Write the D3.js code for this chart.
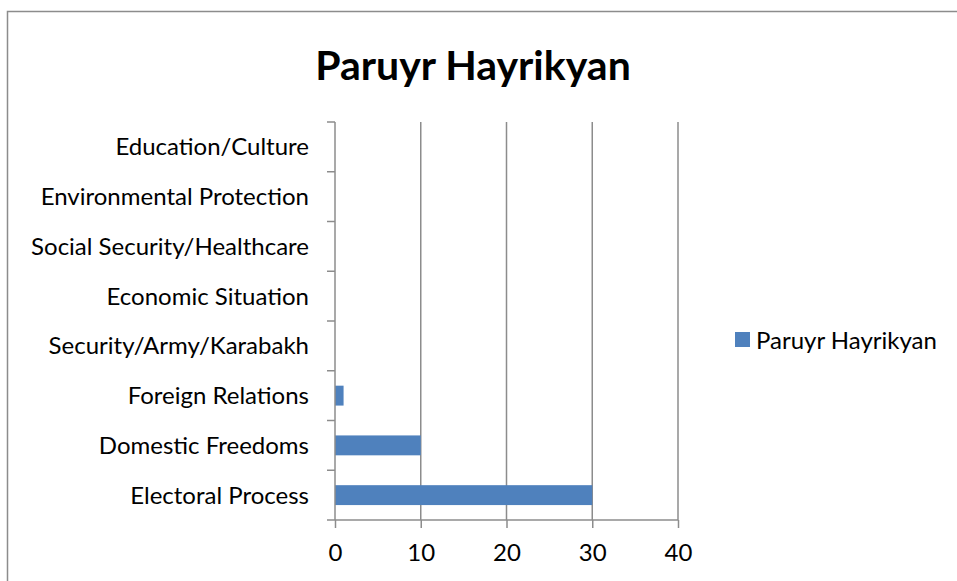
<!DOCTYPE html>
<html>
<head>
<meta charset="utf-8">
<script src="https://cdn.jsdelivr.net/npm/d3@7"></script>
<style>
  body { margin: 0; background: #fff; }
  svg text { font-family: Lato, "Open Sans", sans-serif; fill: #000; }
</style>
</head>
<body>
<div id="chart"></div>
<script>
// categories listed bottom to top, as in the picture
var categories = ['Electoral Process', 'Domestic Freedoms', 'Foreign Relations',
  'Security/Army/Karabakh', 'Economic Situation', 'Social Security/Healthcare',
  'Environmental Protection', 'Education/Culture'];
var values = [30, 10, 1, 0, 0, 0, 0, 0];
var xTicks = [0, 10, 20, 30, 40];
var seriesName = 'Paruyr Hayrikyan';

var width = 957, height = 581;
var plot = { left: 335, right: 678, top: 122, bottom: 520 };

var svg = d3.select('#chart').append('svg')
  .attr('width', width)
  .attr('height', height);

// outer chart frame, runs off the right and bottom edges
svg.append('rect')
  .attr('x', 7.5).attr('y', 11.5)
  .attr('width', width + 20).attr('height', height + 20)
  .attr('fill', 'none')
  .attr('stroke', '#8c8c8c')
  .attr('stroke-width', 1.5);

svg.append('text')
  .attr('x', 473).attr('y', 80)
  .attr('text-anchor', 'middle')
  .style('font-size', '41px')
  .style('font-weight', 'bold')
  .text(seriesName);

var x = d3.scaleLinear().domain([0, 40]).range([plot.left, plot.right]);
var y = d3.scaleBand().domain(categories.slice().reverse())
  .range([plot.top, plot.bottom])
  .paddingInner(0.6).paddingOuter(0.3);
var yEdges = d3.scaleLinear().domain([0, categories.length]).range([plot.bottom, plot.top]);

// vertical gridlines
svg.append('g').selectAll('line')
  .data(xTicks.slice(1))
  .enter().append('line')
  .attr('x1', function (d) { return x(d); })
  .attr('x2', function (d) { return x(d); })
  .attr('y1', plot.top).attr('y2', plot.bottom)
  .attr('stroke', '#a0a0a0')
  .attr('stroke-width', 1.5);

// bars
svg.append('g').selectAll('rect')
  .data(categories)
  .enter().append('rect')
  .attr('x', x(0))
  .attr('y', function (d) { return y(d); })
  .attr('width', function (d, i) { return x(values[i]) - x(0); })
  .attr('height', y.bandwidth())
  .attr('fill', '#4f81bd');

// x axis
var xAxis = d3.axisBottom(x).tickValues(xTicks).tickSize(8).tickPadding(16);
var gx = svg.append('g')
  .attr('transform', 'translate(0,' + plot.bottom + ')')
  .call(xAxis);
gx.selectAll('text').style('font-size', '24px');

// y axis: category boundary ticks
var gy = svg.append('g');
gy.append('line')
  .attr('x1', plot.left).attr('x2', plot.left)
  .attr('y1', plot.top).attr('y2', plot.bottom);
gy.selectAll('line.tick')
  .data(d3.range(categories.length + 1))
  .enter().append('line')
  .attr('class', 'tick')
  .attr('x1', plot.left - 8).attr('x2', plot.left)
  .attr('y1', function (d) { return yEdges(d); })
  .attr('y2', function (d) { return yEdges(d); });
gy.selectAll('text')
  .data(categories)
  .enter().append('text')
  .attr('x', 309)
  .attr('y', function (d) { return y(d) + y.bandwidth() / 2; })
  .attr('dy', '0.35em')
  .attr('text-anchor', 'end')
  .style('font-size', '24px')
  .text(function (d) { return d; });

svg.selectAll('.domain, .tick line, g line')
  .attr('stroke', '#8c8c8c')
  .attr('stroke-width', 1.5);
gx.select('.domain').attr('d', 'M' + plot.left + ',0H' + plot.right);

// legend
var legend = svg.append('g').attr('transform', 'translate(735,332)');
legend.append('rect')
  .attr('width', 15).attr('height', 15)
  .attr('fill', '#4f81bd');
legend.append('text')
  .attr('x', 21).attr('y', 9)
  .attr('dy', '0.35em')
  .style('font-size', '24px')
  .text(seriesName);
</script>
</body>
</html>
